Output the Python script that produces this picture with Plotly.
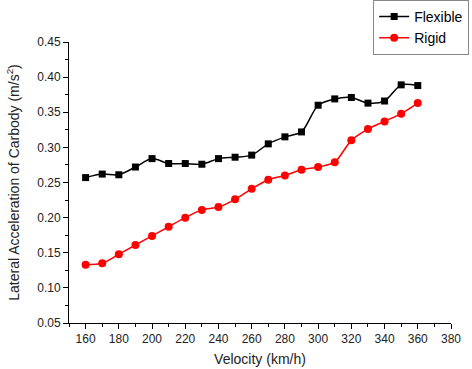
import plotly.graph_objects as go

velocity = [160, 170, 180, 190, 200, 210, 220, 230, 240, 250, 260,
            270, 280, 290, 300, 310, 320, 330, 340, 350, 360]
flexible = [0.257, 0.262, 0.261, 0.272, 0.284, 0.277, 0.277, 0.276, 0.284, 0.286, 0.289,
            0.305, 0.315, 0.322, 0.360, 0.369, 0.371, 0.363, 0.366, 0.389, 0.388]
rigid = [0.133, 0.135, 0.148, 0.161, 0.174, 0.187, 0.200, 0.211, 0.215, 0.226, 0.241,
         0.254, 0.260, 0.268, 0.272, 0.279, 0.310, 0.326, 0.337, 0.348, 0.363]

x_ticks = list(range(160, 381, 20))
y_ticks = [0.05, 0.10, 0.15, 0.20, 0.25, 0.30, 0.35, 0.40, 0.45]

FONT = "Liberation Sans, Arial"

fig = go.Figure()
fig.add_trace(go.Scatter(
    x=velocity, y=flexible, name="Flexible", mode="lines+markers",
    line=dict(color="black", width=1.5, shape="spline", smoothing=0.8),
    marker=dict(symbol="square", size=7, color="black"),
))
fig.add_trace(go.Scatter(
    x=velocity, y=rigid, name="Rigid", mode="lines+markers",
    line=dict(color="#ff0000", width=1.5, shape="spline", smoothing=0.8),
    marker=dict(symbol="circle", size=8, color="#ff0000"),
))

axis_common = dict(
    showline=True, linecolor="black", linewidth=1, mirror=False,
    ticks="outside", ticklen=5, tickwidth=1, tickcolor="black",
    showgrid=False, zeroline=False, automargin=False,
    tickfont=dict(family=FONT, size=12, color="#222"),
    minor=dict(ticks="outside", ticklen=3, tickwidth=1, tickcolor="black"),
)

fig.update_xaxes(
    range=[150, 380], tickvals=x_ticks, ticktext=[str(v) for v in x_ticks],
    minor_dtick=10, minor_tick0=150,
    title=dict(text="Velocity (km/h)", font=dict(family=FONT, size=14, color="#222"), standoff=8),
    **axis_common,
)
fig.update_yaxes(
    range=[0.05, 0.45], tickvals=y_ticks, ticktext=[f"{v:.2f}" for v in y_ticks],
    minor_dtick=0.025, minor_tick0=0.05,
    title=dict(text="Lateral Acceleration of Carbody (m/s<sup>2</sup>)",
               font=dict(family=FONT, size=14, color="#222"), standoff=14),
    **axis_common,
)

fig.update_layout(
    width=472, height=369,
    margin=dict(l=68.5, r=21.3, t=42.3, b=45.7, pad=0, autoexpand=False),
    paper_bgcolor="white", plot_bgcolor="white",
    showlegend=True,
    legend=dict(
        xref="container", yref="container",
        x=0.994, y=1.0, xanchor="right", yanchor="top",
        bordercolor="#888", borderwidth=1, bgcolor="white",
        font=dict(family=FONT, size=14, color="black"),
        itemwidth=30, tracegroupgap=0,
    ),
)

fig.write_html(
    "out.html",
    config={"displayModeBar": False},
    post_script="document.body.style.margin='0';document.body.style.padding='0';",
)
